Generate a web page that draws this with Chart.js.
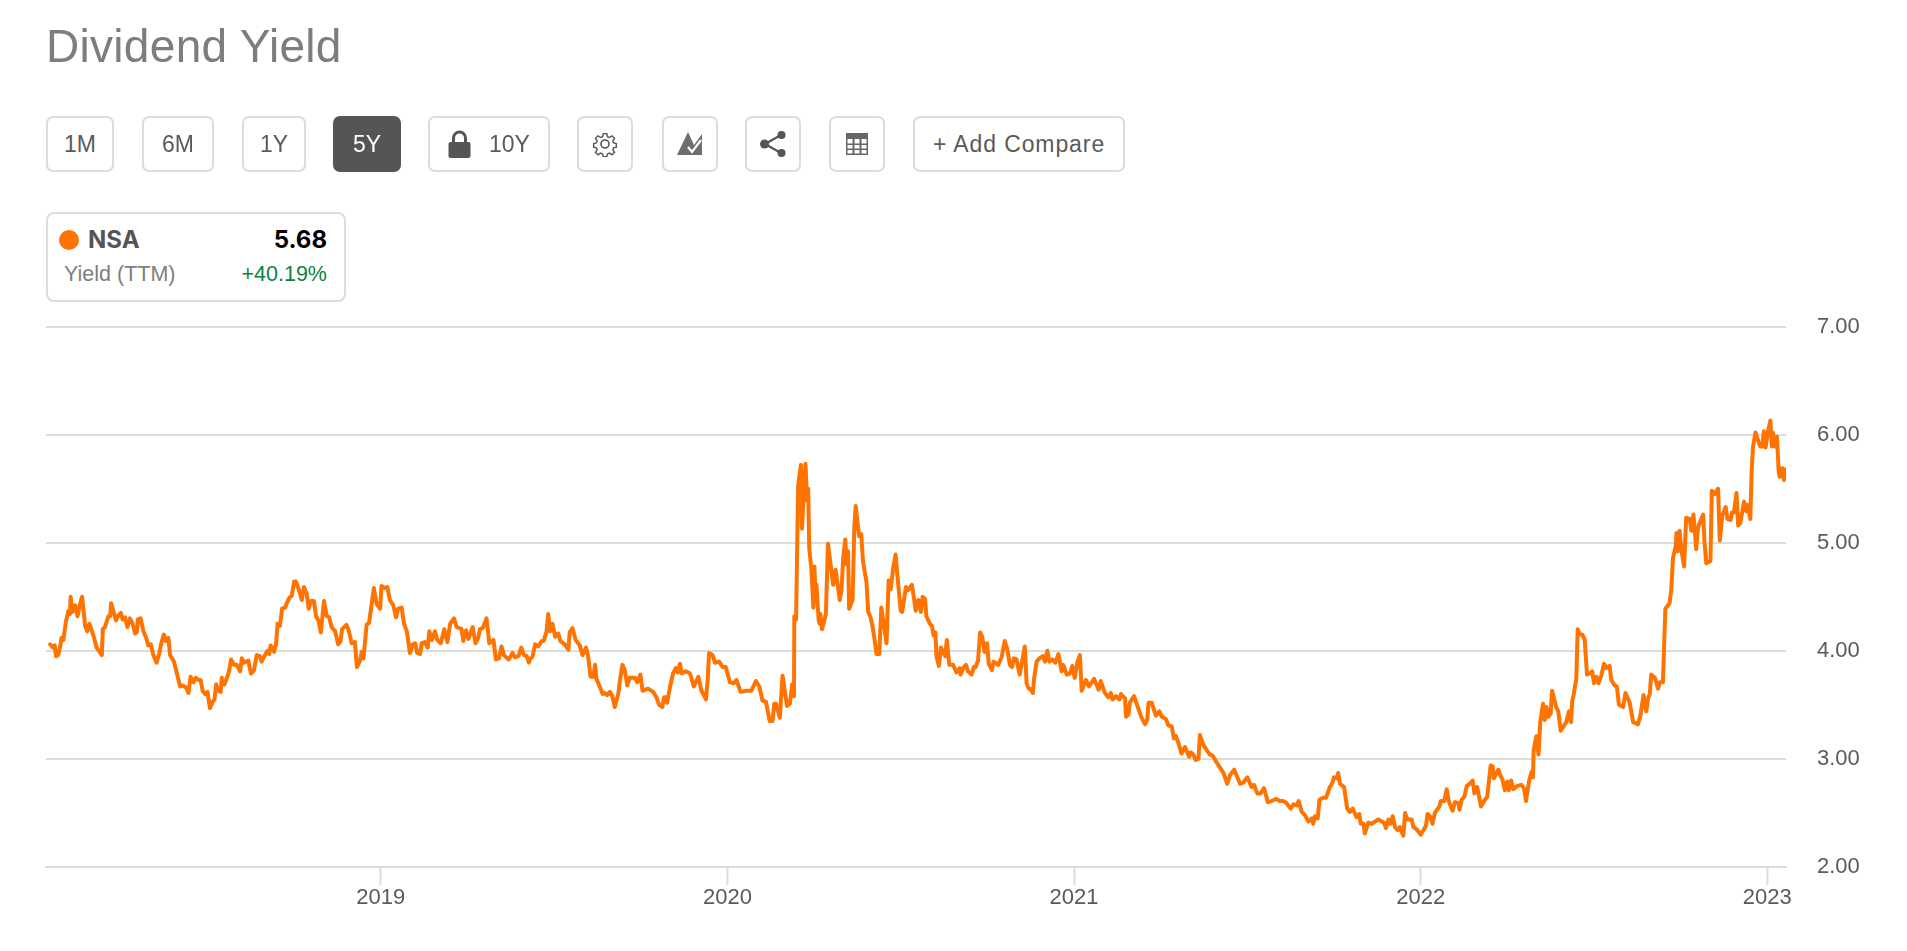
<!DOCTYPE html>
<html>
<head>
<meta charset="utf-8">
<title>Dividend Yield</title>
<script src="https://cdn.jsdelivr.net/npm/chart.js@4"></script>
<style>
html,body{margin:0;padding:0;background:#fff;width:1907px;height:951px;overflow:hidden;font-family:"Liberation Sans",Arial,sans-serif;}
#wrap{position:absolute;left:0;top:0;width:1907px;height:951px;}
canvas{position:absolute;left:0;top:0;}
h1{position:absolute;left:46px;top:16px;margin:0;font-size:46px;font-weight:400;color:#7d7d7d;line-height:60px;letter-spacing:.3px;white-space:nowrap;}
.btn{position:absolute;top:116px;height:56px;box-sizing:border-box;border:2px solid #dcdcdc;border-radius:7px;background:#fff;color:#5a5a5a;font-size:23px;font-weight:400;display:flex;align-items:center;justify-content:center;white-space:nowrap;}
.btn.on{background:#555;border-color:#555;color:#fff;}
.btn svg{display:block;}
#leg{position:absolute;left:46px;top:212px;width:300px;height:90px;box-sizing:border-box;border:2px solid #dcdcdc;border-radius:8px;background:#fff;}
#dot{position:absolute;left:11px;top:16px;width:20px;height:20px;border-radius:50%;background:#ff7300;}
.t{position:absolute;white-space:nowrap;line-height:26px;}
</style>
</head>
<body>
<div id="wrap">
<canvas id="c" width="1907" height="951"></canvas>
<h1>Dividend Yield</h1>
<div class="btn" style="left:46px;width:68px">1M</div>
<div class="btn" style="left:142px;width:72px">6M</div>
<div class="btn" style="left:242px;width:64px">1Y</div>
<div class="btn on" style="left:333px;width:68px">5Y</div>
<div class="btn" style="left:428px;width:122px">
 <svg width="23" height="30" viewBox="0 0 23 30" style="margin-right:18px"><path d="M5.500 14V9a6 6 0 0 1 12 0v5" fill="none" stroke="#555" stroke-width="3"/><rect x="0.500" y="13" width="22" height="16" rx="2" fill="#555"/></svg>10Y</div>
<div class="btn" style="left:577px;width:56px">
 <svg width="26" height="26" viewBox="0 0 26 26"><g fill="none" stroke="#555" stroke-width="1.6"><circle cx="13" cy="13" r="4"/><path d="M11 1.5h4l.7 3.4 2.2.9 2.9-1.9 2.8 2.8-1.9 2.9.9 2.2 3 .7v4l-3 .7-.9 2.2 1.9 2.9-2.8 2.8-2.9-1.9-2.2.9-.7 3h-4l-.7-3-2.2-.9-2.9 1.9-2.8-2.8 1.9-2.9-.9-2.2-3-.7v-4l3-.7.9-2.2L2.4 6.700 5.200 3.900l2.900 1.900 2.200-.9z" transform="translate(1.300 1.300) scale(.9)"/></g></svg></div>
<div class="btn" style="left:662px;width:56px">
 <svg width="26" height="26" viewBox="0 0 26 26"><path d="M0 24 11 1l6 13 8-11v21z" fill="#6e6e6e"/><path d="M11 16l4 5 9-12" fill="none" stroke="#fff" stroke-width="2.200"/></svg></div>
<div class="btn" style="left:745px;width:56px">
 <svg width="28" height="28" viewBox="0 0 28 28"><path d="M6 14 22 5M6 14l16 9" stroke="#555" stroke-width="2.200" fill="none"/><circle cx="5.500" cy="14" r="4.500" fill="#555"/><circle cx="22.500" cy="5" r="4" fill="#555"/><circle cx="22.500" cy="23" r="4" fill="#555"/></svg></div>
<div class="btn" style="left:829px;width:56px">
 <svg width="24" height="24" viewBox="0 0 24 24"><rect x="1" y="1" width="22" height="22" fill="#666"/><g fill="#fff"><rect x="2.500" y="7" width="5" height="4.500"/><rect x="9.500" y="7" width="5" height="4.500"/><rect x="16.500" y="7" width="5" height="4.500"/><rect x="2.500" y="13" width="5" height="3.500"/><rect x="9.500" y="13" width="5" height="3.500"/><rect x="16.500" y="13" width="5" height="3.500"/><rect x="2.500" y="18" width="5" height="3.500"/><rect x="9.500" y="18" width="5" height="3.500"/><rect x="16.500" y="18" width="5" height="3.500"/></g></svg></div>
<div class="btn" style="left:913px;width:212px;letter-spacing:.9px">+ Add Compare</div>
<div id="leg">
 <div id="dot"></div>
 <div class="t" style="left:40px;top:13px;font-family:Inter,sans-serif;font-size:24px;font-weight:700;color:#555">NSA</div>
 <div class="t" style="right:17px;top:13px;font-family:Inter,sans-serif;font-size:24px;font-weight:700;color:#000">5.68</div>
 <div class="t" style="left:16px;top:47px;font-size:21.5px;color:#7e7e7e">Yield (TTM)</div>
 <div class="t" style="right:17px;top:47px;font-size:21.500px;color:#0f7f42">+40.19%</div>
</div>
</div>
<script>
const seriesName = "NSA";
const xTickYears = [2019, 2020, 2021, 2022, 2023];
const yTickValues = [2, 3, 4, 5, 6, 7];
const years = [
2018.046,2018.054,2018.059,2018.063,2018.069,2018.075,2018.079,2018.084,2018.092,2018.099,
2018.103,2018.105,2018.110,2018.118,2018.125,2018.132,2018.138,2018.147,2018.153,2018.159,
2018.171,2018.180,2018.195,2018.198,2018.204,2018.214,2018.219,2018.222,2018.228,2018.236,
2018.243,2018.250,2018.255,2018.262,2018.269,2018.276,2018.284,2018.291,2018.296,2018.299,
2018.307,2018.315,2018.323,2018.329,2018.336,2018.344,2018.353,2018.361,2018.368,2018.374,
2018.380,2018.387,2018.392,2018.403,2018.411,2018.421,2018.428,2018.438,2018.445,2018.451,
2018.459,2018.466,2018.474,2018.480,2018.486,2018.493,2018.500,2018.507,2018.515,2018.520,
2018.525,2018.531,2018.538,2018.541,2018.549,2018.555,2018.562,2018.568,2018.576,2018.584,
2018.594,2018.599,2018.605,2018.618,2018.625,2018.634,2018.642,2018.651,2018.656,2018.664,
2018.673,2018.678,2018.682,2018.692,2018.698,2018.702,2018.709,2018.715,2018.724,2018.730,
2018.736,2018.743,2018.750,2018.755,2018.764,2018.772,2018.778,2018.786,2018.792,2018.799,
2018.807,2018.813,2018.820,2018.827,2018.836,2018.844,2018.851,2018.858,2018.868,2018.877,
2018.884,2018.888,2018.901,2018.908,2018.916,2018.925,2018.931,2018.940,2018.945,2018.950,
2018.959,2018.966,2018.980,2018.988,2018.998,2019.002,2019.012,2019.019,2019.026,2019.036,
2019.044,2019.050,2019.060,2019.067,2019.075,2019.084,2019.092,2019.099,2019.105,2019.113,
2019.118,2019.127,2019.135,2019.140,2019.147,2019.156,2019.163,2019.173,2019.183,2019.192,
2019.200,2019.211,2019.219,2019.233,2019.238,2019.246,2019.253,2019.265,2019.273,2019.281,
2019.286,2019.294,2019.305,2019.313,2019.325,2019.332,2019.341,2019.348,2019.355,2019.369,
2019.380,2019.387,2019.397,2019.405,2019.413,2019.421,2019.427,
2019.430,2019.438,2019.445,2019.454,2019.464,2019.470,2019.478,2019.483,2019.488,2019.495,
2019.503,2019.512,2019.518,2019.531,2019.541,2019.545,2019.553,2019.562,2019.574,2019.582,
2019.592,2019.598,2019.605,2019.613,2019.618,2019.622,2019.634,2019.640,2019.646,2019.653,
2019.661,2019.668,2019.675,2019.685,2019.690,2019.697,2019.704,2019.711,2019.718,2019.733,
2019.740,2019.749,2019.755,2019.771,2019.786,2019.795,2019.803,2019.812,2019.817,2019.822,
2019.826,2019.834,2019.843,2019.851,2019.857,2019.863,2019.868,2019.880,2019.892,2019.903,
2019.916,2019.925,2019.938,2019.943,2019.947,2019.957,2019.964,2019.976,2019.986,2019.995,
2020.002,2020.007,2020.018,2020.026,2020.038,2020.055,2020.069,2020.082,2020.092,2020.101,
2020.111,2020.122,2020.130,2020.135,2020.140,2020.151,2020.159,2020.172,2020.180,2020.187,
2020.192,
2020.193,2020.198,2020.204,2020.212,2020.215,2020.225,2020.230,2020.233,2020.236,2020.242,
2020.248,2020.251,2020.254,2020.257,2020.263,2020.266,2020.268,2020.273,2020.284,2020.290,
2020.305,2020.312,2020.319,2020.324,2020.329,2020.334,2020.340,2020.344,2020.348,2020.351,
2020.361,2020.366,2020.370,2020.380,2020.386,2020.391,2020.401,2020.406,2020.413,2020.420,
2020.425,2020.430,2020.438,2020.444,2020.452,2020.459,2020.465,2020.471,2020.478,2020.485,
2020.492,2020.500,2020.504,2020.515,2020.521,2020.532,2020.539,2020.543,2020.551,2020.558,
2020.563,2020.570,2020.574,2020.584,2020.590,2020.595,2020.600,2020.603,2020.610,2020.616,
2020.628,2020.633,2020.640,2020.651,2020.661,2020.670,2020.673,2020.680,2020.688,2020.694,
2020.704,2020.711,2020.716,2020.723,2020.729,2020.735,2020.742,2020.749,2020.754,2020.763,
2020.768,2020.781,2020.791,2020.800,2020.807,2020.815,2020.821,2020.826,2020.834,2020.843,
2020.858,2020.863,2020.869,
2020.873,2020.881,2020.885,2020.892,2020.900,2020.910,2020.916,2020.923,2020.929,2020.938,
2020.946,2020.955,2020.964,2020.969,2020.979,2020.988,2020.995,2021.002,2021.010,2021.017,
2021.022,2021.034,2021.043,2021.058,2021.071,2021.077,2021.089,2021.099,2021.106,2021.111,
2021.121,2021.131,2021.135,2021.147,2021.150,2021.157,2021.161,2021.173,2021.185,2021.195,
2021.205,2021.211,2021.215,2021.224,2021.236,2021.246,2021.253,2021.265,2021.272,2021.282,
2021.288,2021.294,2021.301,2021.310,2021.320,2021.332,2021.337,2021.344,2021.351,2021.359,
2021.363,2021.373,2021.383,2021.392,2021.400,2021.409,2021.421,2021.431,2021.442,2021.450,
2021.462,2021.479,2021.488,2021.500,2021.512,2021.519,2021.529,2021.538,2021.548,2021.559,
2021.570,2021.583,2021.594,2021.604,2021.613,2021.625,2021.633,2021.642,2021.648,2021.657,
2021.666,2021.676,2021.686,2021.690,2021.695,2021.703,2021.708,2021.717,2021.727,2021.738,
2021.744,2021.750,2021.758,2021.762,2021.767,2021.779,2021.788,2021.796,2021.804,2021.815,
2021.823,2021.827,2021.835,2021.839,2021.849,2021.859,2021.878,2021.894,2021.900,2021.907,
2021.913,2021.919,2021.926,2021.934,2021.940,2021.950,2021.955,2021.962,2021.974,2021.979,
2021.988,2022.000,2022.008,2022.015,2022.020,2022.027,2022.034,2022.041,2022.054,2022.058,
2022.068,2022.075,2022.081,2022.092,2022.099,2022.109,2022.112,2022.118,2022.126,2022.133,
2022.142,2022.150,2022.155,2022.163,2022.174,2022.185,2022.192,2022.202,2022.208,2022.211,
2022.224,2022.231,2022.236,2022.243,2022.250,2022.254,2022.261,2022.267,2022.279,2022.291,
2022.298,2022.304,2022.313,
2022.320,2022.324,2022.326,2022.334,2022.340,2022.345,2022.353,2022.358,2022.363,2022.368,
2022.375,2022.379,2022.391,2022.397,2022.404,2022.420,2022.428,2022.434,2022.437,2022.441,
2022.449,2022.453,2022.459,2022.466,2022.473,2022.480,2022.488,2022.495,2022.500,2022.507,
2022.513,2022.521,2022.529,2022.536,2022.545,2022.550,2022.560,2022.566,2022.572,2022.584,
2022.591,2022.603,2022.613,2022.627,2022.634,2022.643,2022.651,2022.656,2022.661,2022.665,
2022.676,2022.685,2022.690,2022.699,2022.702,2022.706,2022.718,2022.723,2022.728,2022.736,
2022.738,2022.742,2022.747,2022.752,2022.760,2022.766,2022.776,2022.781,2022.787,2022.795,
2022.800,2022.815,2022.819,2022.824,2022.836,2022.840,2022.848,2022.858,2022.863,2022.870,
2022.880,2022.885,2022.894,2022.898,2022.904,2022.911,2022.916,2022.922,2022.933,2022.940,
2022.944,2022.951,2022.955,2022.959,2022.966,2022.973,2022.980,2022.986,2022.990,2022.995,
2023.002,2023.009,2023.013,2023.016,2023.022,2023.028,2023.033,2023.036,2023.043,2023.048,
2023.052
];
const yields = [
4.06,4.03,4.05,3.95,3.96,4.04,4.12,4.10,4.28,4.37,
4.34,4.50,4.36,4.42,4.32,4.43,4.50,4.23,4.18,4.25,
4.14,4.03,3.96,4.20,4.22,4.32,4.32,4.44,4.37,4.28,
4.33,4.35,4.29,4.31,4.22,4.30,4.25,4.16,4.17,4.29,
4.30,4.18,4.12,4.05,4.06,3.96,3.89,3.98,4.09,4.15,
4.09,4.12,3.96,3.90,3.80,3.67,3.68,3.66,3.61,3.76,
3.71,3.75,3.73,3.73,3.63,3.60,3.62,3.47,3.53,3.55,
3.69,3.63,3.62,3.75,3.69,3.74,3.81,3.92,3.87,3.87,
3.81,3.93,3.89,3.91,3.79,3.82,3.96,3.95,3.90,3.95,
4.00,3.97,4.05,3.99,4.07,4.25,4.23,4.39,4.40,4.45,
4.49,4.51,4.64,4.64,4.56,4.47,4.59,4.53,4.39,4.46,
4.46,4.32,4.28,4.17,4.46,4.32,4.31,4.22,4.18,4.06,
4.09,4.20,4.24,4.18,4.07,4.08,3.85,3.91,3.99,3.93,
4.24,4.26,4.58,4.43,4.39,4.60,4.58,4.59,4.47,4.42,
4.31,4.39,4.40,4.25,4.18,3.98,4.06,4.07,3.98,3.97,
4.07,4.08,4.03,4.18,4.10,4.18,4.10,4.07,4.20,4.08,
4.25,4.30,4.22,4.20,4.09,4.19,4.11,4.22,4.07,4.12,
4.20,4.21,4.30,4.07,4.10,3.92,3.93,4.04,3.96,3.92,
3.98,3.94,3.95,4.03,3.96,3.95,3.89,
3.92,3.95,4.06,4.04,4.09,4.09,4.18,4.34,4.18,4.25,
4.13,4.16,4.09,4.06,4.01,4.17,4.21,4.10,4.05,3.96,
4.03,3.95,3.76,3.76,3.87,3.74,3.65,3.60,3.61,3.59,
3.62,3.58,3.48,3.60,3.73,3.87,3.82,3.68,3.75,3.75,
3.71,3.78,3.63,3.65,3.62,3.57,3.50,3.48,3.57,3.57,
3.52,3.66,3.79,3.84,3.80,3.88,3.79,3.81,3.79,3.67,
3.76,3.63,3.55,3.73,3.98,3.96,3.89,3.90,3.85,3.85,
3.77,3.71,3.70,3.73,3.62,3.63,3.63,3.72,3.67,3.54,
3.53,3.35,3.35,3.51,3.51,3.38,3.77,3.49,3.51,3.69,
3.58,
4.32,4.29,5.53,5.72,5.13,5.73,5.39,5.50,4.95,4.76,
4.40,4.78,4.51,4.61,4.29,4.25,4.34,4.20,4.34,4.99,
4.61,4.75,4.59,4.47,4.56,4.86,5.03,4.80,4.92,4.39,
4.47,5.14,5.34,5.06,5.08,4.83,4.64,4.36,4.31,4.20,
4.09,3.97,3.97,4.40,4.23,4.07,4.65,4.57,4.76,4.89,
4.64,4.37,4.36,4.59,4.56,4.61,4.47,4.37,4.47,4.36,
4.50,4.48,4.32,4.25,4.23,4.14,4.17,3.95,3.86,4.03,
3.95,4.10,3.87,3.87,3.80,3.84,3.78,3.84,3.87,3.81,
3.78,3.85,3.85,3.91,4.17,4.13,3.99,4.07,3.88,3.82,
3.90,3.87,3.94,4.09,4.02,3.87,3.85,3.93,3.92,3.78,
4.04,3.70,3.65,
3.65,3.61,3.75,3.90,3.93,3.95,3.90,4.00,3.90,3.92,
3.89,3.97,3.81,3.87,3.78,3.79,3.86,3.75,3.90,3.96,
3.63,3.73,3.67,3.74,3.64,3.72,3.61,3.57,3.61,3.55,
3.58,3.55,3.60,3.56,3.39,3.41,3.52,3.58,3.47,3.38,
3.32,3.36,3.52,3.52,3.40,3.44,3.39,3.37,3.31,3.30,
3.19,3.21,3.15,3.05,3.11,3.02,3.06,3.04,2.99,3.00,
3.22,3.13,3.08,3.04,3.03,2.98,2.92,2.87,2.77,2.85,
2.90,2.77,2.78,2.83,2.74,2.76,2.68,2.68,2.73,2.60,
2.61,2.63,2.61,2.61,2.59,2.54,2.58,2.57,2.61,2.51,
2.48,2.42,2.45,2.40,2.47,2.45,2.62,2.64,2.64,2.74,
2.77,2.83,2.82,2.87,2.77,2.74,2.54,2.51,2.54,2.46,
2.49,2.40,2.40,2.31,2.41,2.40,2.44,2.41,2.36,2.44,
2.40,2.47,2.37,2.34,2.37,2.29,2.50,2.44,2.44,2.37,
2.35,2.30,2.34,2.38,2.49,2.47,2.40,2.50,2.56,2.61,
2.61,2.72,2.61,2.52,2.60,2.59,2.53,2.62,2.65,2.75,
2.77,2.80,2.68,2.74,2.56,2.62,2.65,2.94,2.93,2.82,
2.90,2.84,2.81,2.71,2.79,2.71,2.80,2.72,2.75,2.76,
2.73,2.61,2.80,
2.88,2.83,3.08,3.21,3.04,3.34,3.51,3.36,3.48,3.39,
3.42,3.63,3.48,3.44,3.26,3.34,3.44,3.34,3.53,3.59,
3.74,4.20,4.15,4.15,4.11,3.78,3.79,3.81,3.70,3.76,
3.70,3.77,3.88,3.84,3.86,3.73,3.68,3.67,3.50,3.48,
3.61,3.52,3.34,3.32,3.40,3.59,3.44,3.56,3.60,3.78,
3.75,3.65,3.71,3.71,4.01,4.39,4.44,4.57,4.86,4.97,
5.09,4.92,5.11,4.94,4.78,5.23,5.22,5.11,5.26,4.94,
5.14,5.26,5.00,4.81,4.83,5.48,5.45,5.50,5.02,5.25,
5.33,5.22,5.21,5.28,5.28,5.46,5.16,5.18,5.38,5.29,
5.35,5.22,5.67,5.89,6.02,5.95,5.89,5.89,6.03,5.88,
6.03,6.13,5.89,6.02,5.89,5.98,5.65,5.61,5.69,5.58,
5.68
];

const points = years.map((y, i) => ({x: y, y: yields[i]}));
new Chart(document.getElementById("c"), {
  type: "line",
  data: {datasets: [{
    label: seriesName,
    data: points,
    borderColor: "#ff7300",
    borderWidth: 4,
    borderJoinStyle: "round",
    borderCapStyle: "round",
    pointRadius: 0,
    tension: 0,
    fill: false
  }]},
  options: {
    responsive: false,
    animation: false,
    parsing: false,
    normalized: true,
    plugins: {legend: {display: false}, tooltip: {enabled: false}, title: {display: false}},
    layout: {padding: {left: 46, top: 326.5, right: 0, bottom: 0}},
    scales: {
      x: {
        type: "linear",
        min: 2018.034,
        max: 2023.054,
        afterBuildTicks: a => { a.ticks = xTickYears.map(v => ({value: v})); },
        afterFit: a => { a.height = 84; },
        grid: {drawOnChartArea: false, drawTicks: true, tickLength: 18, tickWidth: 2, tickColor: "#dcdcdc", color: "#dcdcdc"},
        border: {display: true, color: "#dcdcdc", width: 2},
        ticks: {
          autoSkip: false, maxRotation: 0, padding: 0,
          color: "#5a5a5a", font: {family: "Liberation Sans", size: 22},
          callback: v => String(v)
        }
      },
      y: {
        position: "right",
        min: 2,
        max: 7,
        afterBuildTicks: a => { a.ticks = yTickValues.map(v => ({value: v})); },
        afterFit: a => { a.width = 121; },
        grid: {drawTicks: false, color: "#dcdcdc", lineWidth: 2},
        border: {display: false},
        ticks: {
          padding: 31, color: "#5a5a5a", font: {family: "Liberation Sans", size: 22},
          callback: v => v.toFixed(2)
        }
      }
    }
  }
});
</script>
</body>
</html>
